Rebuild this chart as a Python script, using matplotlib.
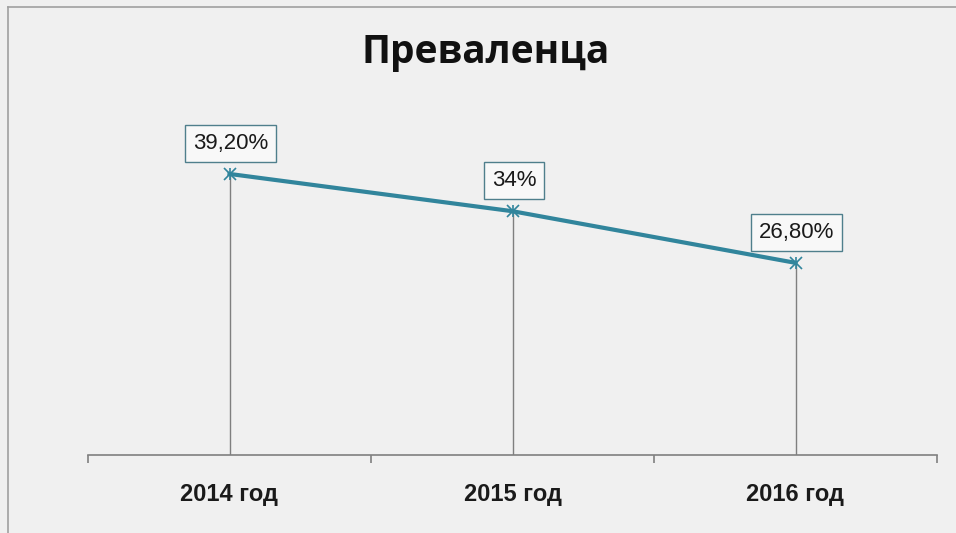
import matplotlib.pyplot as plt
from matplotlib.lines import Line2D

years = ["2014 год", "2015 год", "2016 год"]
values = [39.2, 34.0, 26.8]
labels = ["39,20%", "34%", "26,80%"]

line_color = "#31859c"
bg = "#f0f0f0"

W, H = 956, 533
fig = plt.figure(figsize=(9.56, 5.33), dpi=100, facecolor=bg)
# plot area: x 88..937 px, axis line at y=455, 0..50 -> 7.17 px per unit
ax = fig.add_axes([88 / W, (H - 455) / H, 849 / W, 358.5 / H])
ax.set_facecolor(bg)

# chart frame: only top and left edges fall inside the picture
fig.lines.append(Line2D([8 / W, 8 / W], [0, 1 - 7 / H], transform=fig.transFigure,
                        color="#a0a0a0", linewidth=1.2))
fig.lines.append(Line2D([8 / W, 1], [1 - 7 / H, 1 - 7 / H], transform=fig.transFigure,
                        color="#a0a0a0", linewidth=1.2))

x = [0, 1, 2]
ax.set_xlim(-0.5, 2.5)
ax.set_ylim(0, 50)

# drop lines
ax.vlines(x, 0, values, color="#7f7f7f", linewidth=1)
ax.plot(x, values, color=line_color, linewidth=3, zorder=3)
ax.plot(x, values, linestyle="none", marker="x", markersize=8, color=line_color, mew=1.2, zorder=4)
ax.plot(x, values, linestyle="none", marker="|", markersize=9, color=line_color, mew=1.2, zorder=4)

for xi, v, lab in zip(x, values, labels):
    ax.annotate(lab, (xi, v), xytext=(1, 22), textcoords="offset points",
                ha="center", va="center", fontsize=16, family="Liberation Sans",
                color="#1a1a1a",
                bbox=dict(boxstyle="square,pad=0.35", facecolor="#f8f8f8", edgecolor="#4f7f8c", linewidth=1))

for s in ["top", "right", "left"]:
    ax.spines[s].set_visible(False)
ax.spines["bottom"].set_color("#808080")
ax.spines["bottom"].set_linewidth(1.2)
ax.set_yticks([])
ax.set_xticks([-0.5, 0.5, 1.5, 2.5])
ax.set_xticklabels([])
ax.tick_params(axis="x", length=6, width=1.2, color="#808080", direction="out")
for xi, yr in zip(x, years):
    ax.text(xi, -39 / 358.5, yr, transform=ax.get_xaxis_transform(), ha="center", va="center",
            fontsize=17, fontweight="bold", family="Liberation Sans", color="#1a1a1a")

fig.text(486 / W, 1 - 53 / H, "Преваленца", ha="center", va="center", fontsize=28,
         fontweight="bold", family="Open Sans", color="#111111")

fig.savefig("out.png", dpi=100, facecolor=bg)
